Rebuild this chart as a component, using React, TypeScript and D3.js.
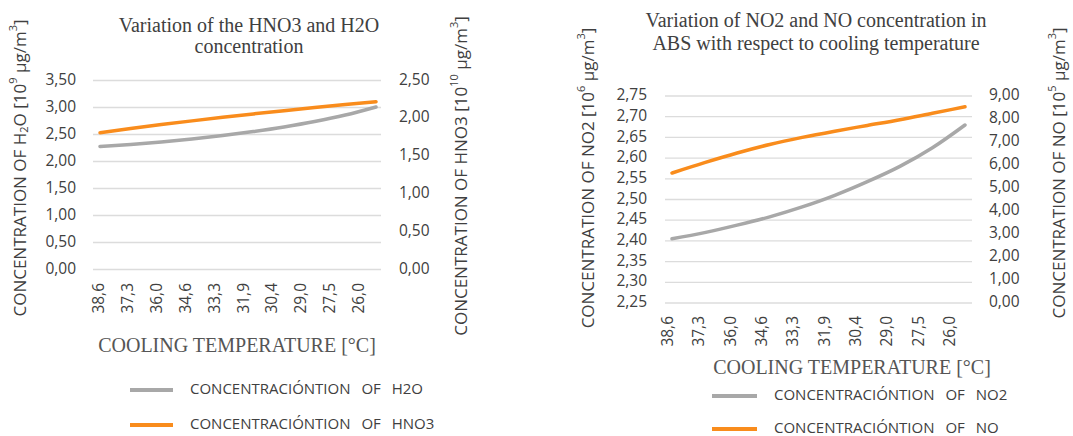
import React from 'react';
import * as d3 from 'd3';

// cooling temperature categories (°C), shared by both charts
const categories = ['38,6', '37,3', '36,0', '34,6', '33,3', '31,9', '30,4', '29,0', '27,5', '26,0'];

// left chart: H2O [10^9 µg/m3] on left axis, HNO3 [10^10 µg/m3] on right axis
const h2oValues = [2.28, 2.315, 2.36, 2.415, 2.48, 2.555, 2.64, 2.74, 2.86, 3.01];
const hno3Values = [1.81, 1.865, 1.917, 1.966, 2.013, 2.058, 2.101, 2.142, 2.181, 2.22];
const h2oTicks = [0, 0.5, 1, 1.5, 2, 2.5, 3, 3.5];
const hno3Ticks = [0, 0.5, 1, 1.5, 2, 2.5];

// right chart: NO2 [10^6 µg/m3] on left axis, NO [10^5 µg/m3] on right axis
const no2Values = [2.405, 2.42, 2.438, 2.458, 2.482, 2.51, 2.543, 2.58, 2.625, 2.68];
const noValues = [5.65, 6.1, 6.52, 6.89, 7.2, 7.47, 7.72, 7.97, 8.25, 8.53];
const no2Ticks = [2.25, 2.3, 2.35, 2.4, 2.45, 2.5, 2.55, 2.6, 2.65, 2.7, 2.75];
const noTicks = [0, 1, 2, 3, 4, 5, 6, 7, 8, 9];

const GRAY = '#a8a8a8';
const ORANGE = '#f98c1c';
const GRID = '#dcdcdc';
const TEXT = '#404040';
const SANS = '"Open Sans", "Liberation Sans", sans-serif';
const SERIF = '"Liberation Serif", "DejaVu Serif", serif';

const fmt = d3.formatLocale({ decimal: ',', thousands: '.', grouping: [3], currency: ['', ''] }).format('.2f');

const AxisTitle = ({ x, y, parts }) => (
  <text
    transform={`translate(${x},${y}) rotate(-90)`}
    textAnchor="middle"
    dominantBaseline="middle"
    fontFamily={SANS}
    fontSize={17}
    fill={TEXT}
  >
    {parts.map((p, i) => {
      if (p.sub) return <tspan key={i} fontSize={11} dy={4}>{p.t}</tspan>;
      if (p.sup) return <tspan key={i} fontSize={11} dy={-7}>{p.t}</tspan>;
      return <tspan key={i} dy={p.back || 0}>{p.t}</tspan>;
    })}
  </text>
);

const DualChart = ({ cfg }) => {
  const yLeft = d3.scaleLinear().domain(cfg.leftDomain).range([cfg.yBottom, cfg.yTop]);
  const yRight = d3.scaleLinear().domain(cfg.rightDomain).range([cfg.yBottom, cfg.yTop]);
  const xLine = d3.scalePoint().domain(categories).range(cfg.lineRange);
  const xLabel = d3.scalePoint().domain(categories).range(cfg.labelRange);

  const leftLine = d3.line()
    .x((d, i) => xLine(categories[i]))
    .y(d => yLeft(d))
    .curve(d3.curveMonotoneX);
  const rightLine = d3.line()
    .x((d, i) => xLine(categories[i]))
    .y(d => yRight(d))
    .curve(d3.curveMonotoneX);

  return (
    <g>
      {cfg.title.map((t, i) => (
        <text key={i} x={cfg.titleX} y={cfg.titleY[i]} textAnchor="middle"
          fontFamily={SERIF} fontSize={20} fill={TEXT}>{t}</text>
      ))}

      {cfg.leftTicks.map(v => (
        <g key={'gl' + v}>
          <line x1={cfg.gridX[0]} x2={cfg.gridX[1]} y1={yLeft(v)} y2={yLeft(v)}
            stroke={GRID} strokeWidth={1.3} />
          <text x={cfg.leftLabelX} y={yLeft(v)} textAnchor="end" dominantBaseline="middle"
            fontFamily={SANS} fontSize={15.5} fill={TEXT}>{fmt(v)}</text>
        </g>
      ))}
      {cfg.rightTicks.map(v => (
        <text key={'r' + v} x={cfg.rightLabelX} y={yRight(v)} textAnchor="start" dominantBaseline="middle"
          fontFamily={SANS} fontSize={15.5} fill={TEXT}>{fmt(v)}</text>
      ))}

      {categories.map(c => (
        <text key={c} transform={`translate(${xLabel(c)},${cfg.catLabelY}) rotate(-90)`}
          textAnchor="end" dominantBaseline="middle" fontFamily={SANS} fontSize={15.5} fill={TEXT}>{c}</text>
      ))}

      <path d={leftLine(cfg.leftValues)} fill="none" stroke={GRAY} strokeWidth={3.5} strokeLinecap="round" />
      <path d={rightLine(cfg.rightValues)} fill="none" stroke={ORANGE} strokeWidth={3.5} strokeLinecap="round" />

      <AxisTitle x={cfg.leftTitleX} y={cfg.leftTitleY} parts={cfg.leftTitle} />
      <AxisTitle x={cfg.rightTitleX} y={cfg.rightTitleY} parts={cfg.rightTitle} />

      <text x={cfg.xTitleX} y={cfg.xTitleY} textAnchor="middle" fontFamily={SERIF}
        fontSize={20} fill="#555">COOLING TEMPERATURE [°C]</text>

      {cfg.legend.map((l, i) => (
        <g key={l.label}>
          <line x1={cfg.legendX[0]} x2={cfg.legendX[1]} y1={cfg.legendY[i]} y2={cfg.legendY[i]}
            stroke={l.color} strokeWidth={4} />
          <text x={cfg.legendX[1] + 17} y={cfg.legendY[i]} dominantBaseline="middle"
            fontFamily={SANS} fontSize={15} fill={TEXT} wordSpacing={7}>{l.label}</text>
        </g>
      ))}
    </g>
  );
};

const leftCfg = {
  title: ['Variation of the HNO3 and H2O', 'concentration'],
  titleX: 249,
  titleY: [32, 53],
  leftDomain: [0, 3.5],
  rightDomain: [0, 2.5],
  yBottom: 269.5,
  yTop: 80.5,
  gridX: [93, 381],
  lineRange: [100, 376],
  labelRange: [100, 360],
  catLabelY: 283,
  leftTicks: h2oTicks,
  rightTicks: hno3Ticks,
  leftLabelX: 76,
  rightLabelX: 399,
  leftValues: h2oValues,
  rightValues: hno3Values,
  leftTitleX: 21,
  leftTitleY: 168,
  leftTitle: [{ t: 'CONCENTRATION OF H' }, { t: '2', sub: true }, { t: 'O [10', back: -4 }, { t: '9', sup: true }, { t: ' µg/m', back: 7 }, { t: '3', sup: true }, { t: ']', back: 7 }],
  rightTitleX: 462,
  rightTitleY: 176,
  rightTitle: [{ t: 'CONCENTRATION OF HNO3 [10' }, { t: '10', sup: true }, { t: ' µg/m', back: 7 }, { t: '3', sup: true }, { t: ']', back: 7 }],
  xTitleX: 237,
  xTitleY: 352,
  legendX: [130, 173],
  legendY: [390, 425],
  legend: [
    { label: 'CONCENTRACIÓNTION OF H2O', color: GRAY },
    { label: 'CONCENTRACIÓNTION OF HNO3', color: ORANGE },
  ],
};

const rightCfg = {
  title: ['Variation of NO2 and NO concentration in', 'ABS with respect to cooling temperature'],
  titleX: 816,
  titleY: [27, 50],
  leftDomain: [2.25, 2.75],
  rightDomain: [0, 9],
  yBottom: 303,
  yTop: 96,
  gridX: [665, 972],
  lineRange: [672, 965],
  labelRange: [669, 951],
  catLabelY: 316,
  leftTicks: no2Ticks,
  rightTicks: noTicks,
  leftLabelX: 647,
  rightLabelX: 989,
  leftValues: no2Values,
  rightValues: noValues,
  leftTitleX: 589,
  leftTitleY: 178,
  leftTitle: [{ t: 'CONCENTRATION OF  NO2 [10' }, { t: '6', sup: true }, { t: ' µg/m', back: 7 }, { t: '3', sup: true }, { t: ']', back: 7 }],
  rightTitleX: 1060,
  rightTitleY: 173,
  rightTitle: [{ t: 'CONCENTRATION OF NO  [10' }, { t: '5', sup: true }, { t: ' µg/m', back: 7 }, { t: '3', sup: true }, { t: ']', back: 7 }],
  xTitleX: 852,
  xTitleY: 374,
  legendX: [712, 757],
  legendY: [396, 429],
  legend: [
    { label: 'CONCENTRACIÓNTION OF NO2', color: GRAY },
    { label: 'CONCENTRACIÓNTION OF NO', color: ORANGE },
  ],
};

export default function App() {
  return (
    <svg width={1073} height={436} style={{ position: 'absolute', left: 0, top: 0, background: '#fff' }}>
      <rect width={1073} height={436} fill="#fff" />
      <DualChart cfg={leftCfg} />
      <DualChart cfg={rightCfg} />
    </svg>
  );
}
